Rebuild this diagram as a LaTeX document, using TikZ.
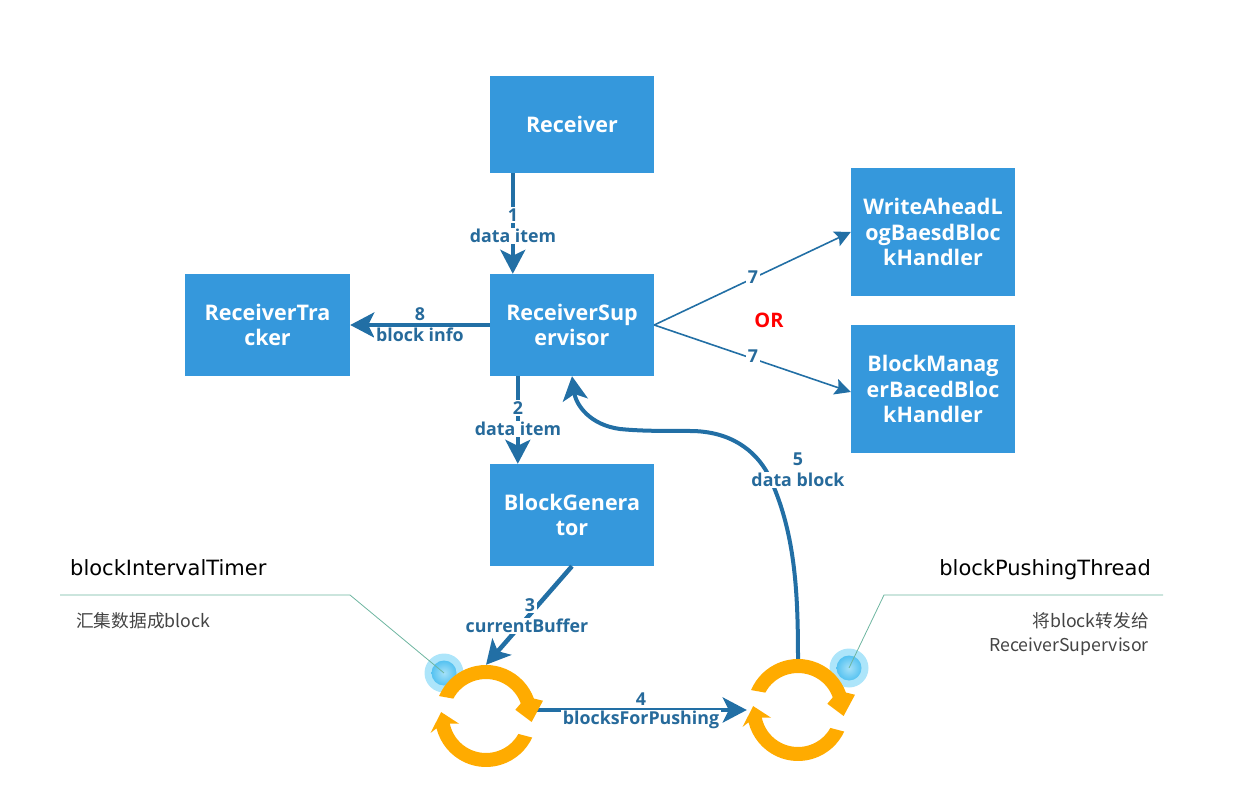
\documentclass[tikz,border=0pt]{standalone}
\usepackage{fontspec}
\setmainfont{DejaVu Sans}
\newfontfamily\cjk{Noto Sans CJK SC}
\newfontfamily\opensans{Open Sans}
\usetikzlibrary{arrows.meta,calc}
\definecolor{boxblue}{HTML}{3598DC}
\definecolor{linkblue}{HTML}{226FA5}
\definecolor{labelblue}{HTML}{266A9B}
\definecolor{ringor}{HTML}{FFAB00}
\definecolor{noteline}{HTML}{6DB5A0}
\definecolor{notegray}{HTML}{444444}
\definecolor{halo}{HTML}{ADE5FA}
\definecolor{dotin}{HTML}{A5E1F8}
\definecolor{dotout}{HTML}{55C2F1}
\tikzset{
  x=1pt,y=-1pt,
  proc/.style={draw=none,fill=boxblue,text=white,inner sep=0pt,align=center,
    font=\fontsize{21.5}{25.5}\selectfont\opensans\bfseries},
  lab/.style={fill=white,text=labelblue,inner xsep=2pt,inner ysep=1.5pt,
    font=\fontsize{17.8}{20}\selectfont\opensans\bfseries},
  thick link/.style={draw=linkblue,line width=4pt,-{Stealth[length=24pt,width=25pt,inset=6pt]}},
  thin link/.style={draw=linkblue,line width=1.6pt,-{Stealth[length=16pt,width=16pt,inset=3pt]}},
  leader/.style={draw=noteline,line width=0.8pt},
  title/.style={inner sep=0pt,text=black,font=\fontsize{21}{26}\selectfont},
  note/.style={inner sep=0pt,text=notegray,font=\fontsize{17.7}{24}\selectfont\cjk},
  ringanchor/.style={circle,minimum size=102pt,inner sep=0pt,draw=none},
  haloball/.style={circle,fill=halo,minimum size=39pt,inner sep=0pt},
  coreball/.style={circle,inner color=dotin,outer color=dotout,minimum size=25pt,inner sep=0pt},
}
\newcommand{\ringicon}[2]{%
  \fill[ringor,shift={(#1,#2)},y=1pt]
    (157:51) arc[start angle=157,end angle=20,radius=51]
    -- (15:59) -- (-7.5:46) -- (12:30) -- (20:37)
    arc[start angle=20,end angle=152,radius=37] -- cycle;
  \fill[ringor,shift={(#1,#2)},y=1pt]
    (-25:51) arc[start angle=-25,end angle=-166,radius=51]
    -- (197:58) -- (175:45) -- (196:28) -- (192:37)
    arc[start angle=-168,end angle=-29,radius=37] -- cycle;
}
\begin{document}
\begin{tikzpicture}
\useasboundingbox (0,0) rectangle (1240,791);
% boxes
\node[proc,minimum width=164pt,minimum height=97pt] (rcv) at (572,124.5) {Receiver};
\node[proc,minimum width=164pt,minimum height=102pt] (rs) at (572,325) {ReceiverSup\\ervisor};
\node[proc,minimum width=165pt,minimum height=102pt] (rt) at (267.5,325) {ReceiverTra\\cker};
\node[proc,minimum width=164pt,minimum height=102pt] (bg) at (572,515) {BlockGenera\\tor};
\node[proc,minimum width=164pt,minimum height=128pt] (wal) at (933,232) {WriteAheadL\\ogBaesdBloc\\kHandler};
\node[proc,minimum width=164pt,minimum height=128pt] (bm) at (933,389) {BlockManag\\erBacedBloc\\kHandler};
% ring anchors
\node[ringanchor] (r1) at (486,716) {};
\node[ringanchor] (r2) at (798,710) {};
% annotation dots and leaders
\node[haloball] (d1) at (444,673) {};
\node[coreball] (d1i) at (d1) {};
\node[haloball] (d2) at (849,668) {};
\node[coreball] (d2i) at (d2) {};
\coordinate (l1a) at (60,595);
\coordinate (l1b) at (350,595);
\coordinate (l2a) at (1163,595);
\coordinate (l2b) at (884,595);
\draw[leader] (l1a) -- (l1b) -- (d1.center);
\draw[leader] (l2a) -- (l2b) -- (d2.center);
% connectors
\draw[thick link] ($(rcv.south west)+(23,0)$) -- ($(rs.north west)+(23,0)$);
\draw[thick link] (rs.west) -- (rt.east);
\draw[thick link] ($(rs.south west)+(28,0)$) -- ($(bg.north west)+(28,0)$);
\draw[thin link] (rs.east) -- (wal.west);
\draw[thin link] (rs.east) -- ($(bm.west)+(0,3)$);
\draw[thick link,line width=4.5pt] (bg.south) -- (r1.north);
\draw[thick link] ($(r1.east)+(0,-6)$) -- (r2.west);
\draw[thick link] (r2.north) .. controls (798,590) and (795,530) .. (768,474)
  .. controls (755,450) and (730,431) .. (690,431)
  .. controls (660,431) and (640,431) .. (620,429)
  .. controls (590,425) and (576,405) .. (rs.south);
% rings
\ringicon{486}{716}
\ringicon{798}{710}
% connector labels
\node[lab] (n1) at (513,215) {1};
\node[lab] (t1) at (513,236) {data item};
\node[lab,fill=none] (n8) at (420,314) {8};
\node[lab] (t8) at (420,335) {block info};
\node[lab] (n2) at (518,408) {2};
\node[lab] (t2) at (518,429) {data item};
\node[lab] (n7a) at (753,277) {7};
\node[lab] (n7b) at (753,356) {7};
\node[lab] (n5) at (798,459) {5};
\node[lab] (t5) at (798,480) {data block};
\node[lab] (n3) at (530,605) {3};
\node[lab] (t3) at (527,626) {currentBuffer};
\node[lab] (n4) at (641,699) {4};
\node[lab] (t4) at (641,720) {blocksForPushing};
\node[text=red,inner sep=0pt,font=\fontsize{20}{24}\selectfont\opensans\bfseries] (or) at (769,320) {OR};
% notes
\node[title,anchor=base west] (a1) at (70,575) {blockIntervalTimer};
\node[title,anchor=base east] (a2) at (1151,575) {blockPushingThread};
\node[note,anchor=base west] (b1) at (76,627) {汇集数据成block};
\node[note,anchor=base east] (b2) at (1149,627) {将block转发给};
\node[note,anchor=base east] (b3) at (1149,651) {ReceiverSupervisor};
\end{tikzpicture}
\end{document}
